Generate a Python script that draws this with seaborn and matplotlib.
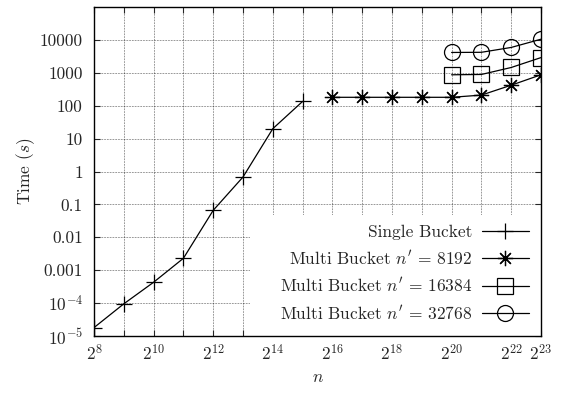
import numpy as np
import pandas as pd
import matplotlib
matplotlib.use("Agg")
import matplotlib.pyplot as plt
import seaborn as sns
from matplotlib.patches import Rectangle

# ---- data ----
single_exp = [8, 9, 10, 11, 12, 13, 14, 15]
single_time = [1.8e-5, 9.5e-5, 4.3e-4, 2.3e-3, 0.066, 0.68, 20, 135]

m8192_exp = [16, 17, 18, 19, 20, 21, 22, 23]
m8192_time = [180, 180, 180, 180, 180, 210, 420, 870]

m16384_exp = [20, 21, 22, 23]
m16384_time = [870, 890, 1450, 2900]

m32768_exp = [20, 21, 22, 23]
m32768_time = [4150, 4200, 5900, 10500]

xtick_exps = [8, 10, 12, 14, 16, 18, 20, 22, 23]
ytick_vals = [1e-5, 1e-4, 1e-3, 1e-2, 1e-1, 1, 10, 100, 1000, 10000]
ytick_labels = [r"$10^{-5}$", r"$10^{-4}$", "0.001", "0.01", "0.1", "1", "10", "100", "1000", "10000"]

labels = ["Single Bucket", r"Multi Bucket $n' \,=\, 8192$",
          r"Multi Bucket $n' \,=\, 16384$", r"Multi Bucket $n' \,=\, 32768$"]

# ---- style ----
FS = 12.5
sns.set_style("ticks")
plt.rcParams["font.family"] = ["cmr10", "DejaVu Serif"]
plt.rcParams["mathtext.fontset"] = "cm"
plt.rcParams["axes.formatter.use_mathtext"] = True
plt.rcParams["font.size"] = FS

fig = plt.figure(figsize=(5.61, 3.93), dpi=100)
ax = fig.add_axes([94 / 561, 1 - 336 / 393, (541 - 94) / 561, (336 - 7) / 393])

series = [
    (single_exp, single_time, "+", {}),
    (m8192_exp, m8192_time, (8, 2, 0), {}),
    (m16384_exp, m16384_time, "s", {"mfc": "none"}),
    (m32768_exp, m32768_time, "o", {"mfc": "none"}),
]
sizes = [11, 11, 11.5, 11.5]
for (ex, t, mk, kw), lab, ms in zip(series, labels, sizes):
    df = pd.DataFrame({"n": [2.0 ** e for e in ex], "t": t})
    sns.lineplot(data=df, x="n", y="t", ax=ax, color="black", marker=mk,
                 markersize=ms, markeredgewidth=0.9, markeredgecolor="black",
                 linewidth=0.9, label=lab, zorder=3, **kw)

ax.set_xscale("log", base=2)
ax.set_yscale("log")
ax.set_xlim(2.0 ** 8, 2.0 ** 23)
ax.set_ylim(1e-5, 1e5)

ax.set_xticks([2.0 ** e for e in range(8, 24)])
ax.set_xticklabels([(r"$2^{%d}$" % e) if e in xtick_exps else "" for e in range(8, 24)])
ax.xaxis.set_minor_locator(matplotlib.ticker.NullLocator())
ax.set_yticks(ytick_vals)
ax.set_yticklabels(ytick_labels)
ax.yaxis.set_minor_locator(matplotlib.ticker.NullLocator())

ax.tick_params(which="both", direction="in", top=True, right=True,
               length=4, width=0.8, labelsize=FS)
ax.tick_params(axis="y", pad=8)
ax.tick_params(axis="x", pad=5)

for s in ax.spines.values():
    s.set_linewidth(1.0)
    s.set_color("black")

ax.set_axisbelow(True)
ax.grid(True, which="major", color="black", linestyle=(0, (1, 1.5)), linewidth=0.45)

# white key background (as in gnuplot)
x0 = (250 - 94) / (541 - 94)
y1 = (336 - 215) / (336 - 7)
ax.add_patch(Rectangle((x0, 0), 1 - x0, y1, transform=ax.transAxes,
                       facecolor="white", edgecolor="none", zorder=1))

ax.set_ylabel(r"Time $(s)$", fontsize=FS, labelpad=2)
ax.set_xlabel(r"$n$", fontsize=FS, labelpad=5)

leg = ax.legend(loc="lower right", bbox_to_anchor=(1.004, 0.0), frameon=False,
                markerfirst=False, handlelength=2.7, handletextpad=0.56,
                labelspacing=0.5, fontsize=FS, borderpad=0.3)

fig.savefig("out.png", dpi=100)
